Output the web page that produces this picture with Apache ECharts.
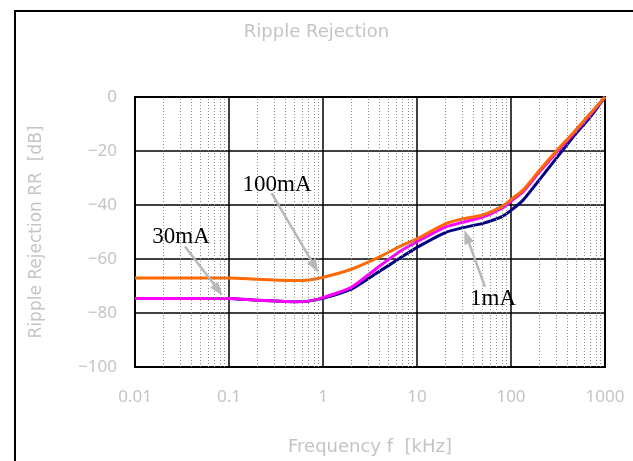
<!DOCTYPE html>
<html>
<head lang='en'>
<meta charset='UTF-8'>
<title>Ripple Rejection</title>
<script src='https://cdn.jsdelivr.net/npm/echarts@6/dist/echarts.min.js'></script>
<style>
  html, body { margin: 0; padding: 0; background: #fff; }
</style>
</head>
<body>
<div id='main' style='width:633px;height:461px;'></div>
<script type='text/javascript'>
// 周波数 [kHz]
var freq = [0.01, 0.1, 0.2, 0.5, 0.7, 1, 2, 3.7, 6.5, 10, 20, 30, 50, 80, 100, 135, 200, 300, 460, 700, 1000];
// RR [dB]
var rr1mA   = [-74.6, -74.6, -75.3, -75.8, -75.6, -74.6, -71.2, -65.3, -59.8, -55.7, -50.2, -48.5, -46.8, -44.3, -42.0, -38.1, -30.7, -22.9, -14.7, -7.3, 0];
var rr30mA  = [-74.6, -74.6, -75.3, -75.8, -75.6, -74.3, -70.5, -63.5, -57.3, -53.6, -48.2, -46.5, -44.5, -41.2, -38.6, -35.0, -27.8, -20.8, -13.7, -6.5, 0];
var rr100mA = [-67.0, -67.0, -67.5, -68.0, -67.8, -66.8, -63.8, -59.8, -55.4, -52.5, -47.0, -45.2, -43.7, -40.6, -38.0, -34.4, -27.2, -20.2, -13.2, -6.0, 0];

var xTicks = [0.01, 0.1, 1, 10, 100, 1000];
var yTicks = [-100, -80, -60, -40, -20, 0];

// 注記 (文字位置, 矢印の始点と終点)
var noteNames = ['100mA', '30mA', '1mA'];
var notePos   = [[0.324, -32.6], [0.0309, -51.9], [64.4, -74.8]];
var arrowFrom = [[0.284, -35.6], [0.034, -55.4], [52.9, -70.3]];
var arrowTo   = [[0.822, -62.9], [0.0769, -71.5], [33.8, -51.7]];

function pairs(ys) {
  return freq.map(function (f, i) { return [f, ys[i]]; });
}

// 補助目盛 (2..9)
var minorLines = [];
for (var d = 0; d < xTicks.length - 1; d++) {
  for (var m = 2; m <= 9; m++) {
    minorLines.push({ xAxis: xTicks[d] * m });
  }
}

var gray = '#c4c4c4';
var myChart = echarts.init(document.getElementById('main'));

myChart.setOption({
  backgroundColor: '#fff',
  animation: false,
  title: {
    text: 'Ripple Rejection',
    left: 'center',
    top: 18,
    textStyle: { color: gray, fontFamily: 'DejaVu Sans', fontSize: 18, fontWeight: 'normal' }
  },
  graphic: [{
    type: 'rect',
    shape: { x: 15, y: 11, width: 700, height: 500 },
    style: { fill: 'none', stroke: '#000', lineWidth: 2 },
    silent: true
  }],
  grid: {
    left: 135, right: 28, top: 97, bottom: 94,
    show: true, borderColor: '#000', borderWidth: 2
  },
  xAxis: {
    type: 'log',
    logBase: 10,
    min: 0.01,
    max: 1000,
    name: 'Frequency f  [kHz]',
    nameLocation: 'middle',
    nameGap: 71,
    nameTextStyle: { color: gray, fontFamily: 'DejaVu Sans', fontSize: 18, verticalAlign: 'top' },
    axisLine: { lineStyle: { color: '#000', width: 2 } },
    axisTick: { show: false },
    axisLabel: {
      color: gray, fontFamily: 'Noto Sans', fontSize: 17, margin: 22,
      formatter: function (v) {
        for (var i = 0; i < xTicks.length; i++) {
          if (Math.abs(v - xTicks[i]) < xTicks[i] * 1e-6) return String(xTicks[i]);
        }
        return '';
      }
    },
    splitLine: { show: true, lineStyle: { color: '#000', width: 1.5 } }
  },
  yAxis: {
    type: 'value',
    min: -100,
    max: 0,
    interval: 20,
    name: 'Ripple Rejection RR  [dB]',
    nameLocation: 'middle',
    nameRotate: 90,
    nameGap: 90,
    nameTextStyle: { color: gray, fontFamily: 'DejaVu Sans', fontSize: 17 },
    axisLine: { show: true, lineStyle: { color: '#000', width: 2 } },
    axisTick: { show: false },
    axisLabel: {
      color: gray, fontFamily: 'Noto Sans', fontSize: 17, margin: 18,
      formatter: function (v) { return String(v).replace('-', '\u2212'); }
    },
    splitLine: { show: true, lineStyle: { color: '#000', width: 1.5 } }
  },
  series: [
    {
      name: 'minor',
      type: 'line',
      data: [],
      silent: true,
      markLine: {
        silent: true,
        symbol: ['none', 'none'],
        label: { show: false },
        lineStyle: { color: '#8c8c8c', type: [1, 2], width: 1 },
        data: minorLines
      }
    },
    {
      name: '1mA',
      type: 'line',
      data: pairs(rr1mA),
      showSymbol: false,
      smooth: 0.2,
      lineStyle: { color: '#000080', width: 3 }
    },
    {
      name: '30mA',
      type: 'line',
      data: pairs(rr30mA),
      showSymbol: false,
      smooth: 0.2,
      lineStyle: { color: '#ff00ff', width: 3 }
    },
    {
      name: '100mA',
      type: 'line',
      data: pairs(rr100mA),
      showSymbol: false,
      smooth: 0.2,
      lineStyle: { color: '#ff6a00', width: 3 }
    },
    {
      name: 'notes',
      type: 'line',
      data: [],
      silent: true,
      markLine: {
        silent: true,
        symbol: ['none', 'triangle'],
        symbolSize: [10, 14],
        label: { show: false },
        lineStyle: { color: '#b8b8b8', type: 'solid', width: 2.5 },
        data: arrowFrom.map(function (p, i) {
          return [{ coord: p }, { coord: arrowTo[i] }];
        })
      },
      markPoint: {
        silent: true,
        symbol: 'circle',
        symbolSize: 1,
        itemStyle: { color: 'rgba(0,0,0,0)' },
        label: {
          show: true,
          position: 'inside',
          formatter: '{b}',
          color: '#000',
          fontFamily: 'Liberation Serif',
          fontSize: 23
        },
        data: noteNames.map(function (n, i) {
          return { name: n, coord: notePos[i] };
        })
      }
    }
  ]
});
</script>
</body>
</html>
